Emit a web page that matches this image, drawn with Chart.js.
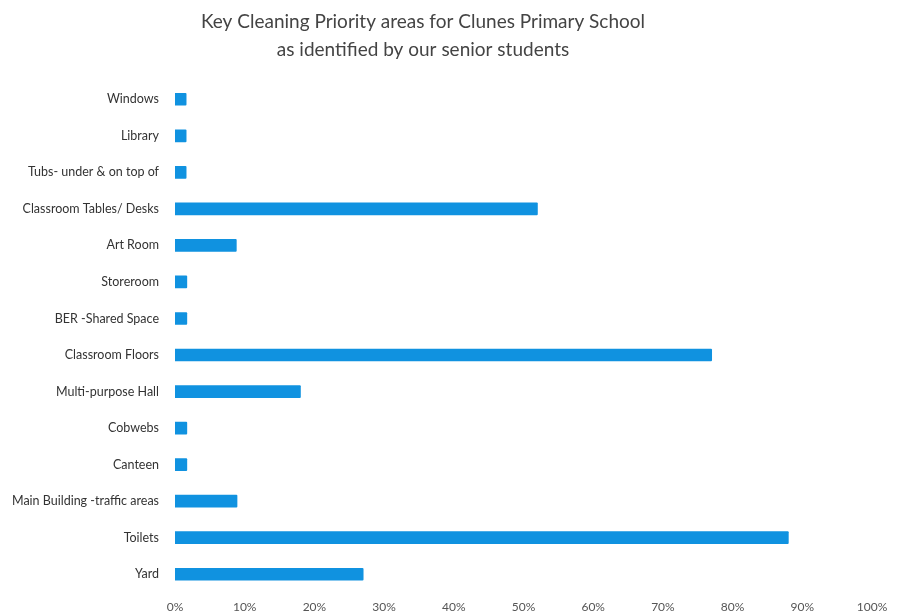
<!DOCTYPE html>
<html>
<head>
<meta charset="utf-8">
<script src="https://cdn.jsdelivr.net/npm/chart.js@4/dist/chart.umd.min.js"></script>
<style>
  html, body { margin: 0; padding: 0; background: #fff; }
  #wrap { width: 902px; height: 616px; position: relative; }
</style>
</head>
<body>
<div id="wrap"><canvas id="context"></canvas></div>
<script>
// categories top to bottom, as in the picture
const areas = [
  "Windows",
  "Library",
  "Tubs- under & on top of",
  "Classroom Tables/ Desks",
  "Art Room",
  "Storeroom",
  "BER -Shared Space",
  "Classroom Floors",
  "Multi-purpose Hall",
  "Cobwebs",
  "Canteen",
  "Main Building -traffic areas",
  "Toilets",
  "Yard"
];
// share of students (%)
const percents = [1.6, 1.6, 1.6, 52, 8.8, 1.7, 1.7, 77, 18, 1.7, 1.7, 8.9, 88, 27];
const titleLines = [
  "Key Cleaning Priority areas for Clunes Primary School",
  "as identified by our senior students"
];

// draws the two line title (sits a bit left of centre in the original)
const titlePlugin = {
  id: 'titleLines',
  afterDraw(chart) {
    let c = chart.ctx;
    c.save();
    c.fillStyle = "#444";
    c.font = "19px Lato, 'Open Sans', sans-serif";
    c.textAlign = "center";
    c.textBaseline = "middle";
    c.fillText(titleLines[0], 423, 22);
    c.fillText(titleLines[1], 423, 50);
    c.restore();
  }
};

const ctx = document.getElementById('context');
const cht = new Chart(ctx, {
  type: 'bar',
  data: {
    labels: areas,
    datasets: [{
      data: percents,
      backgroundColor: "#1092e0",
      barThickness: 12,
      borderRadius: 1
    }]
  },
  options: {
    indexAxis: 'y',
    responsive: true,
    maintainAspectRatio: false,
    animation: false,
    layout: { padding: { top: 81, right: 30, left: 6, bottom: 0 } },
    plugins: {
      legend: { display: false },
      tooltip: { enabled: false }
    },
    scales: {
      x: {
        min: 0, max: 100,
        grid: { display: false, drawTicks: false },
        border: { display: false },
        ticks: {
          stepSize: 10,
          padding: 7,
          color: "#555",
          font: { size: 12, family: "Lato, 'Open Sans', sans-serif" },
          callback: (v) => v + "%"
        },
        afterFit: (s) => { s.height = 23; }
      },
      y: {
        grid: { display: false, drawTicks: false },
        border: { display: false },
        ticks: {
          padding: 16,
          color: "#333",
          font: { size: 12.5, family: "Lato, 'Open Sans', sans-serif" }
        },
        afterFit: (s) => { s.width = 169; }
      }
    }
  },
  plugins: [titlePlugin]
});
</script>
</body>
</html>
